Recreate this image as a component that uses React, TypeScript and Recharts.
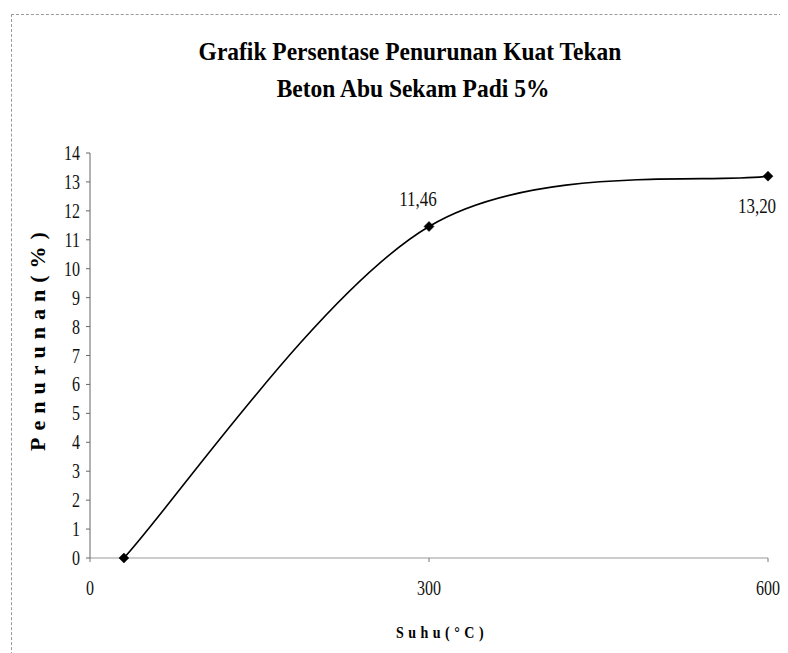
import React from 'react';
import { LineChart, Line, XAxis, YAxis, LabelList } from 'recharts';

// ---- data ----
const suhu: number[] = [30, 300, 600];
const penurunan: number[] = [0, 11.46, 13.2];
const xTicks: number[] = [0, 300, 600];
const yTicks: number[] = [0, 1, 2, 3, 4, 5, 6, 7, 8, 9, 10, 11, 12, 13, 14];
const titleLine1 = 'Grafik Persentase Penurunan Kuat Tekan';
const titleLine2 = 'Beton Abu Sekam Padi 5%';
const xTitle = 'Suhu(°C)';
const yTitle = 'Penurunan(%)';

const data = suhu.map((s, i) => ({
  suhu: s,
  penurunan: penurunan[i],
  label: penurunan[i] > 0 ? penurunan[i].toFixed(2).replace('.', ',') : '',
}));

const FONT = '"Liberation Serif", "Times New Roman", serif';

// Excel-like smoothed line (Catmull-Rom through the points, as Bezier segments)
function excelSmooth(context: any) {
  let pts: number[][] = [];
  return {
    areaStart() {},
    areaEnd() {},
    lineStart() {
      pts = [];
    },
    point(x: number, y: number) {
      pts.push([+x, +y]);
    },
    lineEnd() {
      const n = pts.length;
      if (!n) return;
      context.moveTo(pts[0][0], pts[0][1]);
      for (let i = 0; i < n - 1; i++) {
        const p0 = pts[Math.max(0, i - 1)];
        const p1 = pts[i];
        const p2 = pts[i + 1];
        const p3 = pts[Math.min(n - 1, i + 2)];
        context.bezierCurveTo(
          p1[0] + (p2[0] - p0[0]) / 6,
          p1[1] + (p2[1] - p0[1]) / 6,
          p2[0] - (p3[0] - p1[0]) / 6,
          p2[1] - (p3[1] - p1[1]) / 6,
          p2[0],
          p2[1]
        );
      }
    },
  };
}

const renderDot = (props: any) => {
  const { cx, cy, index } = props;
  const r = 5;
  return (
    <path
      key={`dot-${index}`}
      d={`M${cx},${cy - r}L${cx + r},${cy}L${cx},${cy + r}L${cx - r},${cy}Z`}
      fill="#000"
      stroke="#000"
      strokeWidth={0.5}
    />
  );
};

const renderLabel = (props: any) => {
  const { x, y, value, index } = props;
  if (!value) return null;
  const below = index === data.length - 1;
  return (
    <g key={`lbl-${index}`} transform={`translate(${x - 11},${y + (below ? 30 : -28)}) scale(1,1.2)`}>
      <text x={0} y={0} dy="0.35em" textAnchor="middle" fontFamily={FONT} fontSize={17} fill="#111">
        {value}
      </text>
    </g>
  );
};

const YTick = (props: any) => {
  const { x, y, payload } = props;
  return (
    <g transform={`translate(${x},${y}) scale(1,1.25)`}>
      <text x={0} y={0} dy="0.35em" textAnchor="end" fontFamily={FONT} fontSize={16} fill="#111">
        {payload.value}
      </text>
    </g>
  );
};

const XTick = (props: any) => {
  const { x, y, payload } = props;
  return (
    <g transform={`translate(${x},${y + 26}) scale(1,1.25)`}>
      <text x={0} y={0} dy="0.35em" textAnchor="middle" fontFamily={FONT} fontSize={16} fill="#111">
        {payload.value}
      </text>
    </g>
  );
};

export default function App() {
  return (
    <div style={{ position: 'relative', width: 780, height: 645, background: '#fff' }}>
      <div
        style={{
          position: 'absolute',
          left: 3,
          top: 6,
          width: 790,
          height: 660,
          borderTop: '1px dashed #9a9a9a',
          borderLeft: '1px dashed #9a9a9a',
        }}
      />
      <LineChart
        width={780}
        height={645}
        data={data}
        margin={{ top: 145, right: 20, bottom: 0, left: 0 }}
        style={{ position: 'absolute', left: 0, top: 0 }}
      >
        <XAxis
          dataKey="suhu"
          type="number"
          domain={[0, 600]}
          ticks={xTicks}
          height={95}
          tickSize={4}
          tickMargin={0}
          axisLine={{ stroke: '#9a9a9a', strokeWidth: 1.2 }}
          tickLine={{ stroke: '#777' }}
          tick={<XTick />}
          interval={0}
        />
        <YAxis
          type="number"
          domain={[0, 14]}
          ticks={yTicks}
          width={82}
          tickSize={4}
          tickMargin={6}
          axisLine={{ stroke: '#666' }}
          tickLine={{ stroke: '#666' }}
          tick={<YTick />}
          interval={0}
        />
        <Line
          dataKey="penurunan"
          type={excelSmooth as any}
          stroke="#000"
          strokeWidth={1.6}
          dot={renderDot}
          activeDot={false}
          isAnimationActive={false}
        >
          <LabelList dataKey="label" content={renderLabel} />
        </Line>
      </LineChart>
      <svg
        width={780}
        height={645}
        style={{ position: 'absolute', left: 0, top: 0, pointerEvents: 'none' }}
      >
        <g transform="translate(402,52) scale(1,1.1)">
          <text x={0} y={0} textAnchor="middle" fontFamily={FONT} fontWeight="bold" fontSize={23.5} fill="#000">
            {titleLine1}
          </text>
        </g>
        <g transform="translate(405,89) scale(1,1.1)">
          <text x={0} y={0} textAnchor="middle" fontFamily={FONT} fontWeight="bold" fontSize={23.5} fill="#000">
            {titleLine2}
          </text>
        </g>
        <g transform="translate(434,624) scale(1,1.25)">
          <text
            x={0}
            y={0}
            dy="0.35em"
            textAnchor="middle"
            fontFamily={FONT}
            fontWeight="bold"
            fontSize={14}
            letterSpacing={4.5}
            fill="#000"
          >
            {xTitle}
          </text>
        </g>
        <g transform="translate(37,330) rotate(-90)">
          <text
            x={0}
            y={0}
            textAnchor="middle"
            fontFamily={FONT}
            fontWeight="bold"
            fontSize={22}
            letterSpacing={7}
            fill="#000"
          >
            {yTitle}
          </text>
        </g>
      </svg>
    </div>
  );
}
